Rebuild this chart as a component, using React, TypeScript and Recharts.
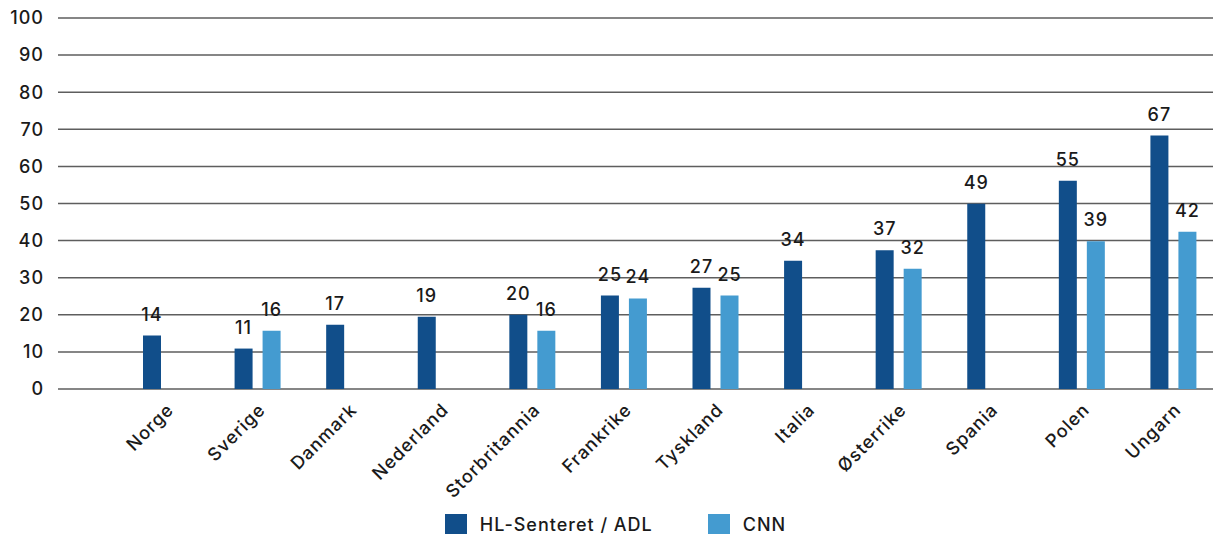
import React from 'react';
import { BarChart, Bar, XAxis, YAxis, CartesianGrid, LabelList, Legend } from 'recharts';

const countries = ['Norge', 'Sverige', 'Danmark', 'Nederland', 'Storbritannia', 'Frankrike', 'Tyskland', 'Italia', 'Østerrike', 'Spania', 'Polen', 'Ungarn'];
const hlValues = [14.4, 10.9, 17.3, 19.5, 20.0, 25.2, 27.3, 34.6, 37.4, 49.9, 56.1, 68.3];
const cnnValues: (number | null)[] = [null, 15.7, null, null, 15.7, 24.4, 25.2, null, 32.4, null, 39.8, 42.4];
const hlLabels = ['14', '11', '17', '19', '20', '25', '27', '34', '37', '49', '55', '67'];
const cnnLabels: (string | null)[] = [null, '16', null, null, '16', '24', '25', null, '32', null, '39', '42'];
const yTicks = [0, 10, 20, 30, 40, 50, 60, 70, 80, 90, 100];
const seriesNames = ['HL-Senteret / ADL', 'CNN'];

const HL_COLOR = '#114E8A';
const CNN_COLOR = '#449BD0';
const seriesColors = [HL_COLOR, CNN_COLOR];
const FONT = 'Inter, sans-serif';
const FS = 18;
const FW = 500;
const LS = 1;
const TEXT = '#1a1a1a';

const data = countries.map((c, i) => ({
  country: c,
  hl: hlValues[i],
  cnn: cnnValues[i],
  hlLabel: hlLabels[i],
  cnnLabel: cnnLabels[i],
}));

const XTick = (props: any) => {
  const { x, y, payload } = props;
  const tx = x + 9;
  const ty = y + 14;
  return (
    <text
      x={tx}
      y={ty}
      textAnchor="end"
      transform={`rotate(-45 ${tx} ${ty})`}
      fontFamily={FONT}
      fontSize={FS}
      fontWeight={FW}
      letterSpacing={LS}
      fill={TEXT}
    >
      {payload.value}
    </text>
  );
};

const renderLegend = () => (
  <div
    style={{
      display: 'flex',
      justifyContent: 'center',
      alignItems: 'center',
      height: 22,
      paddingLeft: 18,
      fontFamily: FONT,
      fontSize: FS,
      fontWeight: FW,
      letterSpacing: LS,
      color: TEXT,
    }}
  >
    {seriesNames.map((name, i) => (
      <div key={i} style={{ display: 'flex', alignItems: 'center', marginRight: i === 0 ? 55 : 0 }}>
        <div style={{ width: 22, height: 22, background: seriesColors[i], marginRight: 13 }} />
        <span style={{ lineHeight: '22px' }}>{name}</span>
      </div>
    ))}
  </div>
);

const labelStyle = { fontFamily: FONT, fontSize: FS, fontWeight: FW, letterSpacing: LS, fill: TEXT };

export default function App() {
  return (
    <div style={{ position: 'absolute', left: 0, top: 0, width: 1213, height: 534, background: '#fff' }}>
      <BarChart
        width={1213}
        height={534}
        data={data}
        margin={{ top: 18, right: 0, left: 0, bottom: 0 }}
        barSize={18}
        barGap={10}
      >
        <CartesianGrid vertical={false} stroke="#5e5e5e" strokeWidth={1.5} />
        <XAxis
          dataKey="country"
          interval={0}
          tickLine={false}
          axisLine={false}
          height={123}
          padding={{ left: 62, right: -6 }}
          tick={<XTick />}
        />
        <YAxis
          domain={[0, 100]}
          ticks={yTicks}
          width={58}
          tickLine={false}
          axisLine={false}
          tickMargin={8}
          interval={0}
          tick={{ fontFamily: FONT, fontSize: FS, fontWeight: FW, letterSpacing: LS, fill: TEXT }}
        />
        <Legend verticalAlign="bottom" content={renderLegend} wrapperStyle={{ top: 514, left: 0, width: 1213 }} />
        <Bar dataKey="hl" name={seriesNames[0]} fill={HL_COLOR} isAnimationActive={false}>
          <LabelList dataKey="hlLabel" position="top" offset={15} style={labelStyle} />
        </Bar>
        <Bar dataKey="cnn" name={seriesNames[1]} fill={CNN_COLOR} isAnimationActive={false}>
          <LabelList dataKey="cnnLabel" position="top" offset={15} style={labelStyle} />
        </Bar>
      </BarChart>
    </div>
  );
}
